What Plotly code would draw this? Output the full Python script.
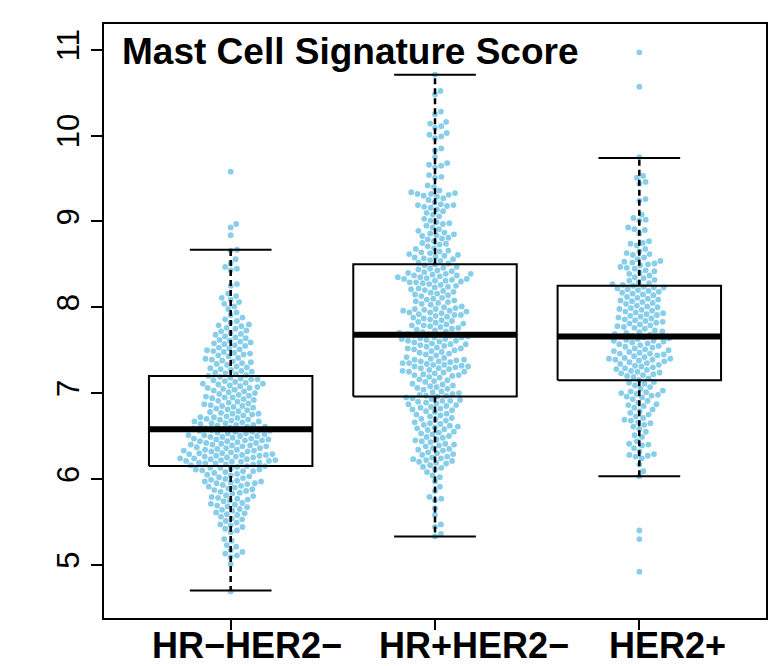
import numpy as np
import plotly.graph_objects as go

# ---------------- data ----------------
groups = ["HR\u2212HER2\u2212", "HR+HER2\u2212", "HER2+"]
group_pos = [1, 2, 3]

g1_scores = [
    4.69, 5.01, 5.09, 5.11, 5.13, 5.15, 5.17, 5.21, 5.23, 5.28, 5.30, 5.38, 5.40,
    5.42, 5.44, 5.46, 5.47, 5.49,
    5.51, 5.53, 5.54, 5.56, 5.58, 5.59,
    5.60, 5.61, 5.63, 5.64, 5.65, 5.67, 5.68, 5.69,
    5.70, 5.71, 5.72, 5.74, 5.75, 5.76, 5.77, 5.78, 5.79,
    5.80, 5.81, 5.83, 5.84, 5.85, 5.86, 5.87, 5.88, 5.89,
    5.90, 5.91, 5.92, 5.93, 5.94, 5.95, 5.95, 5.96, 5.97, 5.97, 5.98, 5.99,
    6.00, 6.01, 6.02, 6.03, 6.04, 6.05, 6.06, 6.07, 6.08, 6.09, 6.09,
    6.10, 6.11, 6.11, 6.12, 6.13, 6.13, 6.14, 6.15, 6.15, 6.16, 6.17, 6.17, 6.18, 6.18, 6.19, 6.19,
    6.20, 6.20, 6.21, 6.21, 6.22, 6.22, 6.23, 6.23, 6.24, 6.24, 6.25, 6.25, 6.26, 6.26, 6.27, 6.27,
    6.28, 6.28, 6.29, 6.29,
    6.30, 6.30, 6.31, 6.32, 6.32, 6.33, 6.33, 6.34, 6.34, 6.35, 6.36, 6.36, 6.37, 6.38, 6.38, 6.39, 6.39,
    6.40, 6.40, 6.41, 6.42, 6.42, 6.43, 6.44, 6.44, 6.45, 6.45, 6.46, 6.46, 6.47, 6.47, 6.48, 6.49, 6.49,
    6.50, 6.50, 6.51, 6.51, 6.52, 6.53, 6.53, 6.54, 6.55, 6.55, 6.56, 6.56, 6.57, 6.57, 6.58, 6.58, 6.59, 6.59,
    6.60, 6.61, 6.61, 6.62, 6.63, 6.63, 6.64, 6.65, 6.65, 6.66, 6.67, 6.67, 6.68, 6.69, 6.69,
    6.70, 6.71, 6.72, 6.72, 6.73, 6.74, 6.75, 6.76, 6.76, 6.77, 6.78, 6.79,
    6.80, 6.81, 6.82, 6.83, 6.84, 6.85, 6.85, 6.86, 6.87, 6.88, 6.89,
    6.90, 6.91, 6.92, 6.93, 6.94, 6.95, 6.95, 6.96, 6.97, 6.98, 6.99,
    7.00, 7.01, 7.02, 7.03, 7.04, 7.05, 7.06, 7.06, 7.07, 7.08, 7.09,
    7.10, 7.11, 7.11, 7.12, 7.13, 7.14, 7.15, 7.16, 7.16, 7.17, 7.18, 7.19,
    7.20, 7.21, 7.22, 7.23, 7.24, 7.25, 7.26, 7.27, 7.28, 7.29,
    7.30, 7.31, 7.33, 7.34, 7.35, 7.36, 7.37, 7.38, 7.39,
    7.40, 7.41, 7.43, 7.44, 7.45, 7.46, 7.47, 7.48, 7.49,
    7.50, 7.51, 7.52, 7.53, 7.55, 7.56, 7.57, 7.58, 7.59,
    7.60, 7.61, 7.62, 7.64, 7.65, 7.66, 7.68, 7.69,
    7.70, 7.72, 7.73, 7.75, 7.76, 7.78, 7.79,
    7.80, 7.82, 7.84, 7.86, 7.88,
    7.91, 7.94, 7.98,
    8.01, 8.04, 8.06, 8.09,
    8.11, 8.13, 8.16,
    8.25, 8.27,
    8.43, 8.45, 8.47,
    8.51, 8.56,
    8.66, 8.67,
    8.84, 8.93, 8.97, 9.58,
]

g2_scores = [
    5.33, 5.36, 5.44, 5.47, 5.58, 5.66, 5.75, 5.77, 5.79, 5.86, 5.91, 5.97, 6.02, 6.04, 6.08,
    6.11, 6.13, 6.14, 6.16, 6.18, 6.19,
    6.20, 6.21, 6.22, 6.23, 6.24, 6.25, 6.26, 6.28, 6.29,
    6.30, 6.31, 6.33, 6.34, 6.35, 6.36, 6.38, 6.39,
    6.40, 6.41, 6.43, 6.44, 6.45, 6.46, 6.48, 6.49,
    6.50, 6.52, 6.53, 6.54, 6.55, 6.57, 6.58, 6.59,
    6.60, 6.61, 6.62, 6.63, 6.64, 6.65, 6.66, 6.68, 6.69,
    6.70, 6.71, 6.73, 6.74, 6.75, 6.76, 6.78, 6.79,
    6.80, 6.81, 6.82, 6.83, 6.84, 6.85, 6.86, 6.87, 6.88, 6.89,
    6.90, 6.91, 6.91, 6.92, 6.93, 6.94, 6.95, 6.96, 6.97, 6.97, 6.98, 6.99,
    7.00, 7.01, 7.02, 7.04, 7.05, 7.06, 7.07, 7.08, 7.09,
    7.10, 7.11, 7.13, 7.14, 7.15, 7.16, 7.18, 7.19,
    7.20, 7.21, 7.21, 7.22, 7.23, 7.24, 7.25, 7.25, 7.26, 7.27, 7.28, 7.29, 7.29,
    7.30, 7.31, 7.31, 7.32, 7.33, 7.33, 7.34, 7.35, 7.35, 7.36, 7.37, 7.37, 7.38, 7.39, 7.39,
    7.40, 7.41, 7.42, 7.44, 7.45, 7.46, 7.47, 7.48, 7.49,
    7.50, 7.51, 7.52, 7.52, 7.53, 7.54, 7.55, 7.56, 7.57, 7.57, 7.58, 7.59,
    7.60, 7.61, 7.61, 7.62, 7.63, 7.63, 7.64, 7.65, 7.65, 7.66, 7.67, 7.67, 7.68, 7.69, 7.69,
    7.70, 7.71, 7.72, 7.73, 7.74, 7.75, 7.76, 7.77, 7.78, 7.79, 7.79,
    7.80, 7.81, 7.82, 7.83, 7.84, 7.85, 7.86, 7.87, 7.88, 7.89,
    7.90, 7.91, 7.91, 7.92, 7.93, 7.94, 7.94, 7.95, 7.96, 7.96, 7.97, 7.98, 7.98, 7.99,
    8.00, 8.01, 8.03, 8.04, 8.05, 8.06, 8.07, 8.08, 8.09,
    8.10, 8.11, 8.13, 8.14, 8.15, 8.16, 8.17, 8.18, 8.19,
    8.20, 8.21, 8.22, 8.23, 8.24, 8.25, 8.26, 8.27, 8.28, 8.29, 8.29,
    8.30, 8.31, 8.31, 8.32, 8.33, 8.33, 8.34, 8.35, 8.35, 8.36, 8.37, 8.37, 8.38, 8.39, 8.39,
    8.40, 8.41, 8.42, 8.43, 8.44, 8.45, 8.46, 8.47, 8.49,
    8.50, 8.51, 8.52, 8.54, 8.55, 8.56, 8.57, 8.58, 8.59,
    8.60, 8.61, 8.62, 8.63, 8.64, 8.65, 8.66, 8.68, 8.69,
    8.71, 8.73, 8.74, 8.75, 8.77, 8.79,
    8.80, 8.81, 8.83, 8.84, 8.85, 8.86, 8.87, 8.89,
    8.91, 8.93, 8.95, 8.97, 8.98, 8.99,
    9.01, 9.03, 9.06, 9.08, 9.10,
    9.12, 9.14, 9.16, 9.17, 9.18, 9.19, 9.19, 9.20,
    9.22, 9.25, 9.27, 9.29,
    9.30, 9.31, 9.32, 9.32, 9.33, 9.34, 9.36,
    9.40, 9.42,
    9.51, 9.52, 9.54,
    9.63, 9.65, 9.66, 9.68,
    9.75, 9.83, 9.85, 9.97, 9.99,
    10.01, 10.03, 10.09, 10.11, 10.14, 10.16, 10.25, 10.28,
    10.48, 10.52, 10.71,
]

g3_scores = [
    4.92, 5.30, 5.40,
    6.03, 6.09, 6.17,
    6.24, 6.26, 6.27, 6.28, 6.29,
    6.32, 6.36, 6.39,
    6.40, 6.41, 6.44, 6.49,
    6.51, 6.55, 6.58,
    6.61, 6.63, 6.65, 6.66, 6.68, 6.69,
    6.71, 6.73, 6.75, 6.77, 6.79,
    6.81, 6.83, 6.85, 6.86, 6.87, 6.89,
    6.91, 6.93, 6.95, 6.96, 6.97, 6.98, 6.99,
    7.00, 7.01, 7.02, 7.03, 7.05, 7.07, 7.09,
    7.11, 7.12, 7.13, 7.15, 7.17, 7.19,
    7.20, 7.21, 7.22, 7.23, 7.24, 7.25, 7.26, 7.27, 7.28, 7.29,
    7.30, 7.31, 7.32, 7.33, 7.34, 7.35, 7.36, 7.37, 7.38, 7.39, 7.39,
    7.40, 7.40, 7.41, 7.42, 7.43, 7.44, 7.45, 7.46, 7.46, 7.47, 7.48, 7.49,
    7.50, 7.51, 7.52, 7.53, 7.54, 7.55, 7.56, 7.57, 7.58, 7.59,
    7.60, 7.61, 7.61, 7.62, 7.63, 7.64, 7.65, 7.66, 7.66, 7.67, 7.68, 7.69,
    7.70, 7.71, 7.72, 7.73, 7.75, 7.76, 7.77, 7.78, 7.79,
    7.80, 7.81, 7.82, 7.83, 7.84, 7.85, 7.86, 7.87, 7.88, 7.89,
    7.90, 7.91, 7.92, 7.93, 7.94, 7.95, 7.96, 7.97, 7.98, 7.99,
    8.00, 8.01, 8.02, 8.04, 8.05, 8.06, 8.07, 8.08, 8.09,
    8.10, 8.11, 8.12, 8.14, 8.15, 8.16, 8.17, 8.18, 8.19,
    8.20, 8.21, 8.22, 8.23, 8.23, 8.24, 8.25, 8.26, 8.27, 8.28, 8.29,
    8.31, 8.32, 8.34, 8.35, 8.37, 8.39,
    8.40, 8.42, 8.43, 8.45, 8.46, 8.47, 8.49,
    8.50, 8.51, 8.52, 8.53, 8.54, 8.56, 8.58,
    8.61, 8.62, 8.63, 8.65, 8.68,
    8.72, 8.74, 8.75, 8.77,
    8.86, 8.90, 8.91, 8.93,
    9.01, 9.02, 9.04, 9.08,
    9.24, 9.26, 9.44, 9.46, 9.51, 9.53,
    9.75, 10.57, 10.97,
]

# box-plot statistics
box_lower = [4.70, 5.33, 6.03]
box_q1 = [6.15, 6.96, 7.15]
box_median = [6.58, 7.68, 7.66]
box_q3 = [7.20, 8.50, 8.25]
box_upper = [8.67, 10.71, 9.74]

y_ticks = [5, 6, 7, 8, 9, 10, 11]
title_text = "Mast Cell Signature Score"

# ---------------- layout geometry ----------------
W, H = 775, 666
M = dict(l=104, r=7, t=24, b=48)
x_range = [0.38, 3.62]
y_range = [4.38, 11.30]
plot_w = W - M["l"] - M["r"]
plot_h = H - M["t"] - M["b"]
px_per_x = plot_w / (x_range[1] - x_range[0])
px_per_y = plot_h / (y_range[1] - y_range[0])

FONT = "Liberation Sans, Arial, Helvetica, sans-serif"
POINT_COLOR = "#87CEEB"
SPACING_PX = 6.5
BOX_HALF = 0.4
CAP_HALF = 0.2


def swarm_offsets(values, spacing_px):
    """beeswarm 'swarm' layout (ascending priority), in pixel space."""
    v = np.asarray(values, dtype=float) * px_per_y / spacing_px
    order = np.argsort(v, kind="stable")
    out = np.zeros(len(v))
    pv, po = [], []
    for idx in order:
        yi = v[idx]
        if pv:
            a_v = np.array(pv)
            a_o = np.array(po)
            dv = np.abs(yi - a_v)
            close = dv < 1.0
            if close.any():
                off = np.sqrt(1.0 - dv[close] ** 2)
                cand = np.concatenate([[0.0], a_o[close] + off, a_o[close] - off])
                best = None
                for c in cand:
                    d2 = (yi - a_v[close]) ** 2 + (c - a_o[close]) ** 2
                    if np.all(d2 >= 0.999):
                        if best is None or abs(c) < abs(best) - 1e-12:
                            best = c
                out[idx] = best
            else:
                out[idx] = 0.0
        pv.append(yi)
        po.append(out[idx])
    return out * spacing_px / px_per_x


fig = go.Figure()

for pos, vals in zip(group_pos, [g1_scores, g2_scores, g3_scores]):
    offs = swarm_offsets(vals, SPACING_PX)
    fig.add_trace(go.Scatter(
        x=pos + offs, y=vals, mode="markers",
        marker=dict(color=POINT_COLOR, size=5.8, line=dict(width=0)),
        hoverinfo="skip",
    ))

# boxes (drawn on top of points, unfilled)
for i, pos in enumerate(group_pos):
    l, r = pos - BOX_HALF, pos + BOX_HALF
    # whiskers (dashed)
    fig.add_trace(go.Scatter(
        x=[pos, pos, None, pos, pos],
        y=[box_q3[i], box_upper[i], None, box_q1[i], box_lower[i]],
        mode="lines", line=dict(color="black", width=2.5, dash="6px,4px"),
        hoverinfo="skip"))
    # staples
    fig.add_trace(go.Scatter(
        x=[pos - CAP_HALF, pos + CAP_HALF, None, pos - CAP_HALF, pos + CAP_HALF],
        y=[box_upper[i], box_upper[i], None, box_lower[i], box_lower[i]],
        mode="lines", line=dict(color="black", width=2), hoverinfo="skip"))
    # box
    fig.add_trace(go.Scatter(
        x=[l, r, r, l, l],
        y=[box_q1[i], box_q1[i], box_q3[i], box_q3[i], box_q1[i]],
        mode="lines", line=dict(color="black", width=2), hoverinfo="skip"))
    # median
    fig.add_trace(go.Scatter(
        x=[l, r], y=[box_median[i], box_median[i]],
        mode="lines", line=dict(color="black", width=6), hoverinfo="skip"))

# group labels (bold, below the axis)
label_x = [1.078, 2.191, 3.137]
for lx, name in zip(label_x, groups):
    fig.add_annotation(x=lx, xref="x", y=-0.0455, yref="paper",
                       text="<b>%s</b>" % name, showarrow=False,
                       xanchor="center", yanchor="middle",
                       font=dict(family=FONT, size=36, color="black"))

fig.add_annotation(x=0.024, xref="paper", y=0.9545, yref="paper",
                   text="<b>%s</b>" % title_text, showarrow=False,
                   xanchor="left", yanchor="middle",
                   font=dict(family=FONT, size=37, color="black"))

fig.update_layout(
    width=W, height=H, margin=M,
    plot_bgcolor="white", paper_bgcolor="white",
    showlegend=False,
    font=dict(family=FONT, color="black"),
    xaxis=dict(range=x_range, tickvals=group_pos, showticklabels=False,
               ticks="outside", ticklen=10, tickwidth=2, tickcolor="black",
               showline=True, linecolor="black", linewidth=2, mirror=True,
               showgrid=False, zeroline=False),
    yaxis=dict(range=y_range, tickvals=y_ticks, ticktext=[str(t) for t in y_ticks],
               tickangle=-90, tickfont=dict(family=FONT, size=31, color="black"),
               ticks="outside", ticklen=11, tickwidth=2, tickcolor="black",
               showline=True, linecolor="black", linewidth=2, mirror=True,
               showgrid=False, zeroline=False),
)

fig.write_html("out.html",
               config={"displayModeBar": False, "staticPlot": True},
               post_script="document.body.style.margin='0px';"
                           "document.body.style.overflow='hidden';")
